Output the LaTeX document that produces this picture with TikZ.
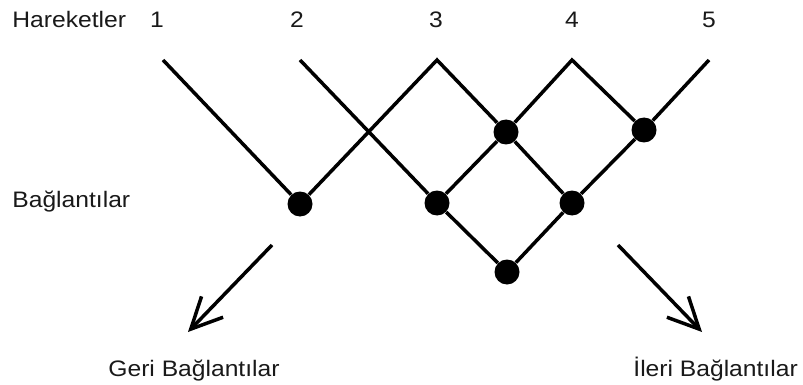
\documentclass[tikz,border=0pt]{standalone}
\usepackage{fontspec}
\setmainfont{Liberation Sans}[FakeStretch=1.1]
\usetikzlibrary{arrows.meta}
\tikzset{
  lbl/.style={inner sep=0pt, font=\fontsize{11.2}{13}\selectfont, text=black!90},
  dot/.style={circle, fill=black, inner sep=0pt, minimum size=12.5pt},
  link/.style={line width=1.75pt, line join=miter},
  dirarrow/.style={line width=1.75pt, -{Straight Barb[length=15.5pt, width=15pt, line width=1.75pt]}}
}
\begin{document}
\begin{tikzpicture}[x=0.5pt, y=-0.5pt]
\useasboundingbox (0,0) rectangle (803,385);

% row labels and movement numbers
\node[lbl, anchor=base west] (hdr) at (12,28) {Hareketler};
\node[lbl, anchor=base] (n1) at (157,28) {1};
\node[lbl, anchor=base] (n2) at (297,28) {2};
\node[lbl, anchor=base] (n3) at (436,28) {3};
\node[lbl, anchor=base] (n4) at (572,28) {4};
\node[lbl, anchor=base] (n5) at (709,28) {5};
\node[lbl, anchor=base west] (bag) at (12,207) {Bağlantılar};

% line ends and peaks
\coordinate (t1) at (163,60);
\coordinate (t2) at (300,60);
\coordinate (p3) at (437,60);
\coordinate (p4) at (572,60);
\coordinate (t5) at (709,60);

% connection points
\node[dot] (d1) at (300,204) {};
\node[dot] (d2) at (437,203) {};
\node[dot] (d3) at (506,132) {};
\node[dot] (d4) at (572,203) {};
\node[dot] (d5) at (644,130) {};
\node[dot] (d6) at (507,272) {};

% lattice of links
\draw[link] (t1) -- (d1) -- (p3) -- (d3) -- (d4);
\draw[link] (t2) -- (d2) -- (d6) -- (d4) -- (d5) -- (t5);
\draw[link] (d2) -- (d3) -- (p4) -- (d5);

% backward and forward arrows
\coordinate (ga) at (272,245);
\coordinate (gb) at (188,332);
\coordinate (ia) at (618,245);
\coordinate (ib) at (702,332);
\draw[dirarrow] (ga) -- (gb);
\draw[dirarrow] (ia) -- (ib);

\node[lbl, anchor=base west] (geri) at (108,376) {Geri Bağlantılar};
\node[lbl, anchor=base west] (ileri) at (633,376) {İleri Bağlantılar};
\end{tikzpicture}
\end{document}
